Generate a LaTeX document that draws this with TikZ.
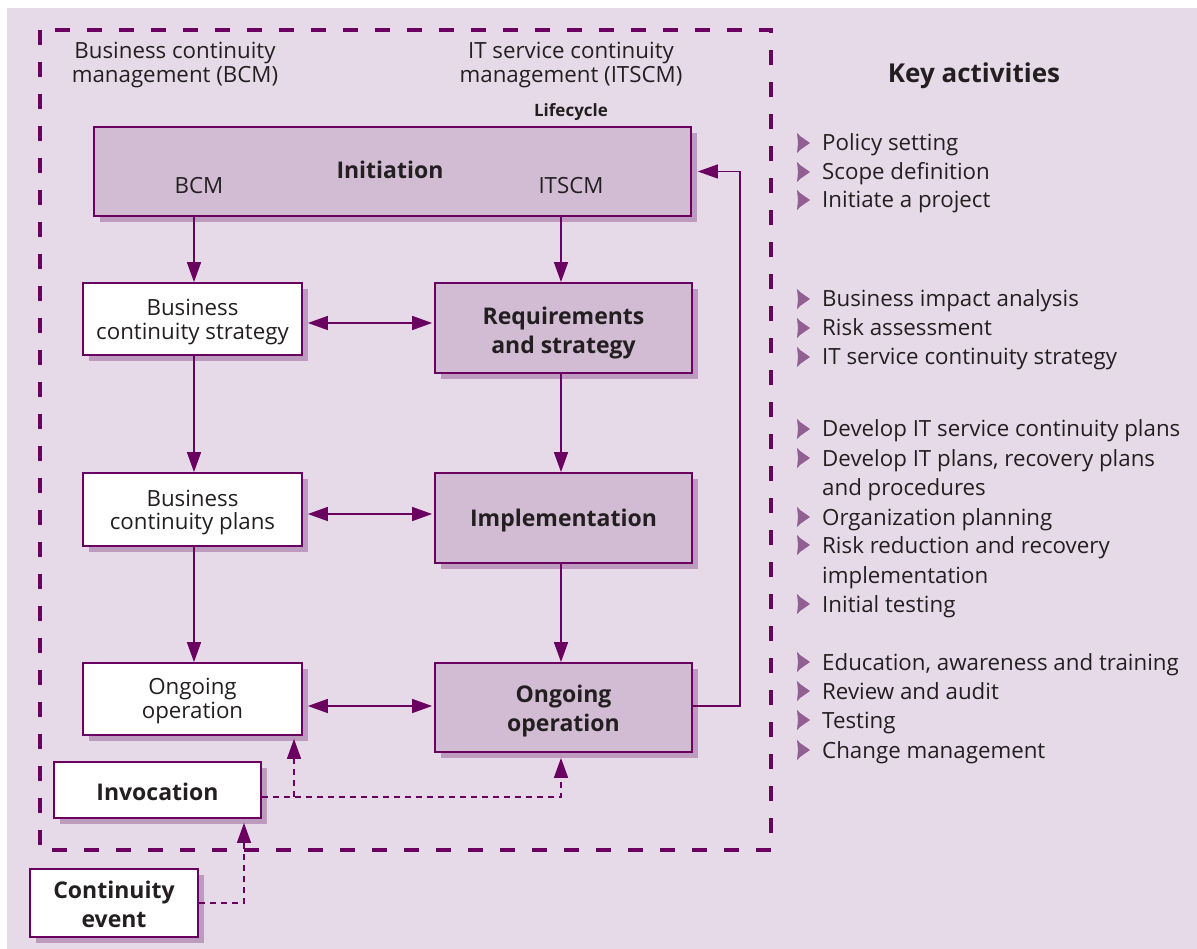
\documentclass[tikz,border=0pt]{standalone}
\usepackage{fontspec}
\setmainfont{Open Sans}
\usetikzlibrary{arrows.meta,shadows,calc}
\definecolor{bgc}{HTML}{E6DAE8}
\definecolor{boxp}{HTML}{D1BCD3}
\definecolor{shc}{HTML}{BC9BBE}
\definecolor{dp}{HTML}{6A0060}
\definecolor{txt}{HTML}{231F20}
\definecolor{bulc}{HTML}{915F92}
\newcommand\kitem[3]{%
  \fill[bulc,shift={(797,#2)}] (0,-18) -- (3,-15) -- (13,-8) -- (3,-1) -- (0,2) -- (1,-8) -- cycle;
  \node[anchor=base west,inner sep=0pt,text=txt,font=\fontsize{22.3}{29}\selectfont] (#1) at (822,#2) {#3};}
\begin{document}
\begin{tikzpicture}[x=1pt,y=-1pt,
  box/.style={draw=dp, line width=1.8pt, inner sep=0pt, align=center, text=txt,
    drop shadow={shadow xshift=6pt, shadow yshift=-6pt, fill=shc, opacity=1}},
  pbox/.style={box, fill=boxp},
  wbox/.style={box, fill=white},
  lbl/.style={text=txt, align=center, inner sep=0pt, font=\fontsize{22.3}{23.5}\selectfont},
  btxt/.style={text=txt, align=center, inner sep=0pt, font=\bfseries\fontsize{23}{29}\selectfont},
  tipA/.tip={Triangle[length=20pt,width=14pt]},
  arr/.style={draw=dp, line width=1.5pt, -tipA},
  dbl/.style={draw=dp, line width=1.5pt, tipA-tipA},
  darr/.style={arr, dash pattern=on 6pt off 5pt},
  frame/.style={draw=dp, line width=4.5pt, dash pattern=on 15pt off 17pt}
]
\useasboundingbox (0,0) rectangle (1197,949);
\fill[white] (0,0) rectangle (1197,949);
\fill[bgc] (7,8) rectangle (1197,949);

\draw[frame] (40,30) rectangle (771,850);

\node[lbl] (bcmT) at (175,65) {Business continuity\\management (BCM)};
\node[lbl] (itT) at (571,65) {IT service continuity\\management (ITSCM)};
\node[lbl,font=\bfseries\fontsize{17}{20}\selectfont] (life) at (571,112) {Lifecycle};

\node[pbox, minimum width=597pt, minimum height=89pt] (Init) at (392.5,171.5) {};
\node[btxt] (initT) at (390,170) {Initiation};
\node[lbl] (bcmI) at (199,186) {BCM};
\node[lbl] (itI) at (571,186) {ITSCM};

\node[wbox, minimum width=219pt, minimum height=72pt] (BCS) at (192.5,319) {};
\node[lbl] (BCSt) at (192.5,322) {Business\\continuity strategy};
\node[pbox, minimum width=257pt, minimum height=90pt] (RS) at (563.5,328) {};
\node[btxt] (RSt) at (563.5,333) {Requirements\\and strategy};
\node[wbox, minimum width=219pt, minimum height=73pt] (BCP) at (192.5,509.5) {};
\node[lbl] (BCPt) at (192.5,512.5) {Business\\continuity plans};
\node[pbox, minimum width=257pt, minimum height=90pt] (IMP) at (563.5,518) {};
\node[btxt] (IMPt) at (563.5,521) {Implementation};
\node[wbox, minimum width=219pt, minimum height=72pt] (OOw) at (192.5,699) {};
\node[lbl] (OOwt) at (192.5,701) {Ongoing\\operation};
\node[pbox, minimum width=257pt, minimum height=89pt] (OOp) at (563.5,707.5) {};
\node[btxt] (OOpt) at (563.5,711.5) {Ongoing\\operation};
\node[wbox, minimum width=207pt, minimum height=56pt] (INV) at (157.5,790) {};
\node[btxt] (INVt) at (157.5,792) {Invocation};
\node[wbox, minimum width=168pt, minimum height=68pt] (CE) at (114,903) {};
\node[btxt] (CEt) at (114,904.5) {Continuity\\event};

\coordinate (bx) at (194,0);
\coordinate (ix) at (561,0);
\coordinate (y1) at (0,323);
\coordinate (y2) at (0,514);
\coordinate (y3) at (0,706);
\coordinate (fb) at (740,0);
\coordinate (dy) at (0,797);
\coordinate (bx2) at (294,0);
\coordinate (cx) at (244,0);

\draw[arr] (Init.south -| bx) -- (BCS.north -| bx);
\draw[arr] (BCS.south -| bx) -- (BCP.north -| bx);
\draw[arr] (BCP.south -| bx) -- (OOw.north -| bx);
\draw[arr] (Init.south -| ix) -- (RS.north -| ix);
\draw[arr] (RS.south -| ix) -- (IMP.north -| ix);
\draw[arr] (IMP.south -| ix) -- (OOp.north -| ix);

\draw[dbl, shorten <=5pt, shorten >=2pt] (BCS.east |- y1) -- (RS.west |- y1);
\draw[dbl, shorten <=5pt, shorten >=2pt] (BCP.east |- y2) -- (IMP.west |- y2);
\draw[dbl, shorten <=5pt, shorten >=2pt] (OOw.east |- y3) -- (OOp.west |- y3);

\draw[arr, shorten >=6pt] (OOp.east |- y3) -- (fb |- y3) -- (fb |- Init.east) -- (Init.east);

\draw[darr, shorten >=5pt] (INV.east |- dy) -| (OOp.south -| ix);
\draw[darr, shorten >=3pt] (bx2 |- dy) -- (OOw.south -| bx2);
\draw[darr, shorten >=4pt] (CE.east) -| (INV.south -| cx);

\node[lbl,font=\bfseries\fontsize{26}{30}\selectfont] (key) at (974,76) {Key activities};

\kitem{a1}{151}{Policy setting}
\kitem{a2}{180}{Scope definition}
\kitem{a3}{208}{Initiate a project}
\kitem{b1}{307}{Business impact analysis}
\kitem{b2}{336}{Risk assessment}
\kitem{b3}{365}{IT service continuity strategy}
\kitem{c1}{437}{Develop IT service continuity plans}
\kitem{c2}{466}{Develop IT plans, recovery plans}
\node[anchor=base west,inner sep=0pt,text=txt,font=\fontsize{22.3}{29}\selectfont] (c2b) at (822,495) {and procedures};
\kitem{c3}{525}{Organization planning}
\kitem{c4}{553}{Risk reduction and recovery}
\node[anchor=base west,inner sep=0pt,text=txt,font=\fontsize{22.3}{29}\selectfont] (c4b) at (822,583) {implementation};
\kitem{c5}{612}{Initial testing}
\kitem{d1}{670}{Education, awareness and training}
\kitem{d2}{699}{Review and audit}
\kitem{d3}{728}{Testing}
\kitem{d4}{758}{Change management}
\end{tikzpicture}
\end{document}
